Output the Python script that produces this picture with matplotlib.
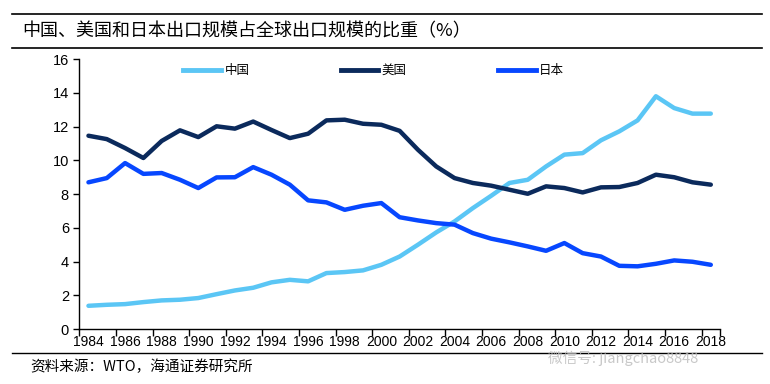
import matplotlib
matplotlib.use("Agg")
import matplotlib.pyplot as plt
from matplotlib.lines import Line2D

plt.rcParams['font.family'] = ['Liberation Sans', 'Noto Sans CJK SC', 'DejaVu Sans']

# data (share of world exports, %)
years = list(range(1984, 2019))
china = [1.38, 1.44, 1.48, 1.60, 1.70, 1.74, 1.84, 2.07, 2.29, 2.45,
         2.77, 2.92, 2.83, 3.32, 3.38, 3.48, 3.81, 4.30, 5.00, 5.73,
         6.38, 7.17, 7.90, 8.66, 8.85, 9.64, 10.34, 10.43, 11.19, 11.72,
         12.37, 13.80, 13.10, 12.77, 12.77]
usa = [11.46, 11.26, 10.73, 10.14, 11.15, 11.78, 11.38, 12.02, 11.88, 12.30,
       11.80, 11.32, 11.58, 12.37, 12.41, 12.17, 12.11, 11.75, 10.63, 9.64,
       8.95, 8.66, 8.50, 8.26, 8.02, 8.46, 8.36, 8.10, 8.40, 8.42,
       8.66, 9.15, 9.00, 8.70, 8.56]
japan = [8.70, 8.95, 9.84, 9.20, 9.25, 8.85, 8.36, 8.99, 9.00, 9.60,
         9.15, 8.56, 7.63, 7.51, 7.07, 7.31, 7.47, 6.63, 6.44, 6.28,
         6.19, 5.69, 5.36, 5.14, 4.90, 4.64, 5.10, 4.50, 4.30, 3.75,
         3.72, 3.87, 4.07, 3.99, 3.81]
names = ['中国', '美国', '日本']
colors = ['#5BC6F5', '#0B2A5C', '#0747FF']

title = '中国、美国和日本出口规模占全球出口规模的比重（%）'
source = '资料来源：WTO，海通证券研究所'

fig = plt.figure(figsize=(7.7, 3.84), dpi=100)
ax = fig.add_axes([0.103, 0.143, 0.832, 0.703])

for vals, c in zip([china, usa, japan], colors):
    ax.plot(years, vals, color=c, lw=3.2, solid_joinstyle='round', solid_capstyle='round')

ax.set_xlim(years[0] - 0.5, years[-1] + 0.5)
ax.set_ylim(0, 16)
ax.set_yticks(range(0, 17, 2))
# ticks sit between categories, labels on every second year
ax.set_xticks([y - 0.5 for y in years[::2]] + [years[-1] + 0.5])
ax.set_xticklabels([])
ax.set_xticks(years[::2], minor=True)
ax.set_xticklabels([str(y) for y in years[::2]], minor=True)
ax.tick_params(axis='x', which='minor', length=0, labelsize=10, pad=4)
ax.tick_params(axis='x', which='major', direction='out', length=5, width=1)
ax.tick_params(axis='y', direction='out', length=4, width=1, labelsize=10.5)
for s in ['top', 'right']:
    ax.spines[s].set_visible(False)
for s in ['left', 'bottom']:
    ax.spines[s].set_linewidth(1)

handles = [Line2D([], [], color=c, lw=3.5) for c in colors]
ax.legend(handles, names, ncol=3, loc='center left', bbox_to_anchor=(0.162, 0.957),
          frameon=False, borderpad=0, borderaxespad=0,
          handlelength=3.0, handletextpad=0.3, columnspacing=7.3,
          prop={'family': 'Noto Sans CJK SC', 'size': 9})

# title block
fig.add_artist(Line2D([0.016, 0.99], [0.963, 0.963], color='black', lw=1.2))
fig.add_artist(Line2D([0.016, 0.99], [0.875, 0.875], color='black', lw=1.2))
fig.text(0.029, 0.919, title, fontsize=13, family='Noto Sans CJK SC', va='center', ha='left')

fig.add_artist(Line2D([0.016, 0.99], [0.081, 0.081], color='black', lw=1.0))
fig.text(0.039, 0.045, source, fontsize=10.5, family=['Noto Sans CJK SC'], va='center', ha='left')

# watermark (kept just below the tick labels)
fig.text(0.712, 0.066, '微信号: jiangchao8848', fontsize=10.5, color='#bbbbbb', alpha=0.8,
         family=['Noto Sans CJK SC'], va='center', ha='left')

fig.savefig('out.png', dpi=100)
